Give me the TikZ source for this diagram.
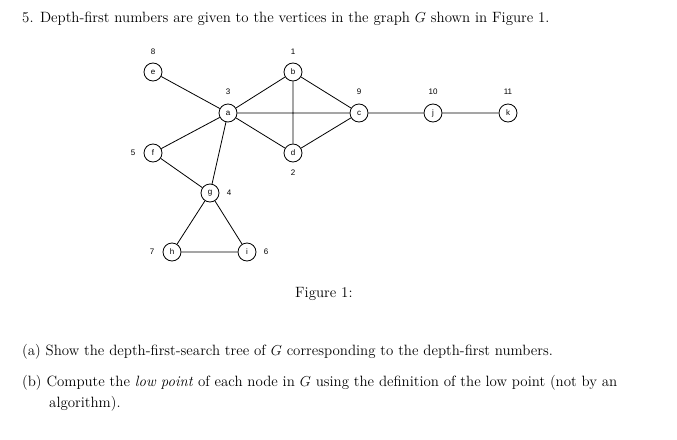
\documentclass[tikz,border=0pt]{standalone}
\usepackage{fontspec}
\newfontfamily\lab{Liberation Sans}
\begin{document}
\begin{tikzpicture}[x=1pt,y=-1pt,
 v/.style={circle,draw,line width=0.8pt,minimum size=18pt,inner sep=0pt,font=\lab\fontsize{8}{9}\selectfont},
 num/.style={font=\lab\fontsize{8}{9}\selectfont},
 txt/.style={anchor=base west,inner sep=0pt,font=\fontsize{14.9}{18}\selectfont},
 e/.style={line width=0.8pt}]
\useasboundingbox (0,0) rectangle (677,439);
\node[txt] (t1) at (22,22) {5. Depth-first numbers are given to the vertices in the graph $G$ shown in Figure 1.};
\node[v] (e) at (153,72) {e};
\node[v] (b) at (293,72) {b};
\node[v] (a) at (228,113) {a};
\node[v] (c) at (359,113) {c};
\node[v] (j) at (433,113) {j};
\node[v] (k) at (508,113) {k};
\node[v] (f) at (153,153) {f};
\node[v] (d) at (293,153) {d};
\node[v] (g) at (210,193) {g};
\node[v] (h) at (172,252) {h};
\node[v] (i) at (247,252) {i};
\node[num] at (153,52) {8};
\node[num] at (293,52) {1};
\node[num] at (228,92) {3};
\node[num] at (359,92) {9};
\node[num] at (433,92) {10};
\node[num] at (508,92) {11};
\node[num] at (133,153) {5};
\node[num] at (293,173) {2};
\node[num] at (229,193) {4};
\node[num] at (152,252) {7};
\node[num] at (266,252) {6};
\draw[e] (e)--(a) (a)--(b) (a)--(c) (a)--(d) (b)--(c) (b)--(d) (d)--(c) (c)--(j) (j)--(k)
 (a)--(f) (a)--(g) (f)--(g) (g)--(h) (g)--(i) (h)--(i);
\node[txt] (fig) at (295,297) {Figure 1:};
\node[txt] (qa) at (22,355) {(a) Show the depth-first-search tree of $G$ corresponding to the depth-first numbers.};
\node[txt] (qb) at (22,386) {(b) Compute the \emph{low point} of each node in $G$ using the definition of the low point (not by an};
\node[txt] (qb2) at (49,407) {algorithm).};
\end{tikzpicture}
\end{document}
